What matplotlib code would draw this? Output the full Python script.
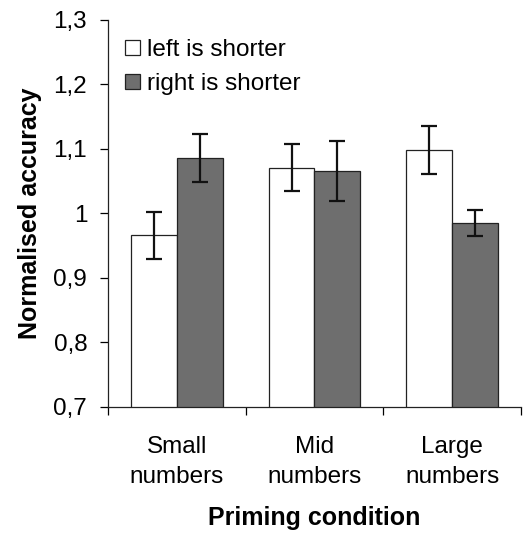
import matplotlib
matplotlib.use("Agg")
import matplotlib.pyplot as plt
import numpy as np

plt.rcParams['font.family'] = ['Liberation Sans', 'DejaVu Sans']

categories = ["Small\nnumbers", "Mid\nnumbers", "Large\nnumbers"]
series_names = ["left is shorter", "right is shorter"]
left_vals = [0.966, 1.071, 1.098]
left_err = [0.036, 0.036, 0.037]
right_vals = [1.086, 1.066, 0.985]
right_err = [0.037, 0.047, 0.020]
yticks = [0.7, 0.8, 0.9, 1.0, 1.1, 1.2, 1.3]
ytick_labels = ["0,7", "0,8", "0,9", "1", "1,1", "1,2", "1,3"]

fig = plt.figure(figsize=(5.23, 5.33), dpi=100)
ax = fig.add_axes([0.2065, 0.2364, 0.7895, 0.7261])

x = np.arange(len(categories))
w = 1/3
err_kw = dict(ecolor='#111111', elinewidth=1.6, capsize=6, capthick=1.6)
ax.bar(x - w/2, left_vals, w, yerr=left_err, color='white', edgecolor='#222222',
       linewidth=0.9, label=series_names[0], error_kw=err_kw)
ax.bar(x + w/2, right_vals, w, yerr=right_err, color='#6e6e6e', edgecolor='#222222',
       linewidth=0.9, label=series_names[1], error_kw=err_kw)

ax.set_xlim(-0.5, 2.5)
ax.set_ylim(0.7, 1.3)
ax.set_yticks(yticks)
ax.set_yticklabels(ytick_labels, fontsize=17.5)
ax.set_xticks(x)
ax.set_xticklabels(categories, fontsize=17.5, linespacing=1.45)
ax.set_xticks([-0.5, 0.5, 1.5, 2.5], minor=True)
ax.tick_params(axis='x', which='major', length=0, pad=21)
ax.tick_params(axis='x', which='minor', length=6, direction='out', width=0.9)
ax.tick_params(axis='y', length=6, direction='out', width=0.9, pad=9)

for s in ['top', 'right']:
    ax.spines[s].set_visible(False)
for s in ['left', 'bottom']:
    ax.spines[s].set_linewidth(0.9)
    ax.spines[s].set_color('#222222')

ax.set_ylabel("Normalised accuracy", fontsize=18, fontweight='bold', labelpad=8)
ax.set_xlabel("Priming condition", fontsize=18, fontweight='bold', labelpad=13)

ax.legend(loc='upper left', bbox_to_anchor=(0.0, 0.995), frameon=False, fontsize=17.5,
          handlelength=0.6, handleheight=0.6, handletextpad=0.3, labelspacing=0.5,
          borderaxespad=0.3)

fig.savefig("out.png", dpi=100)
